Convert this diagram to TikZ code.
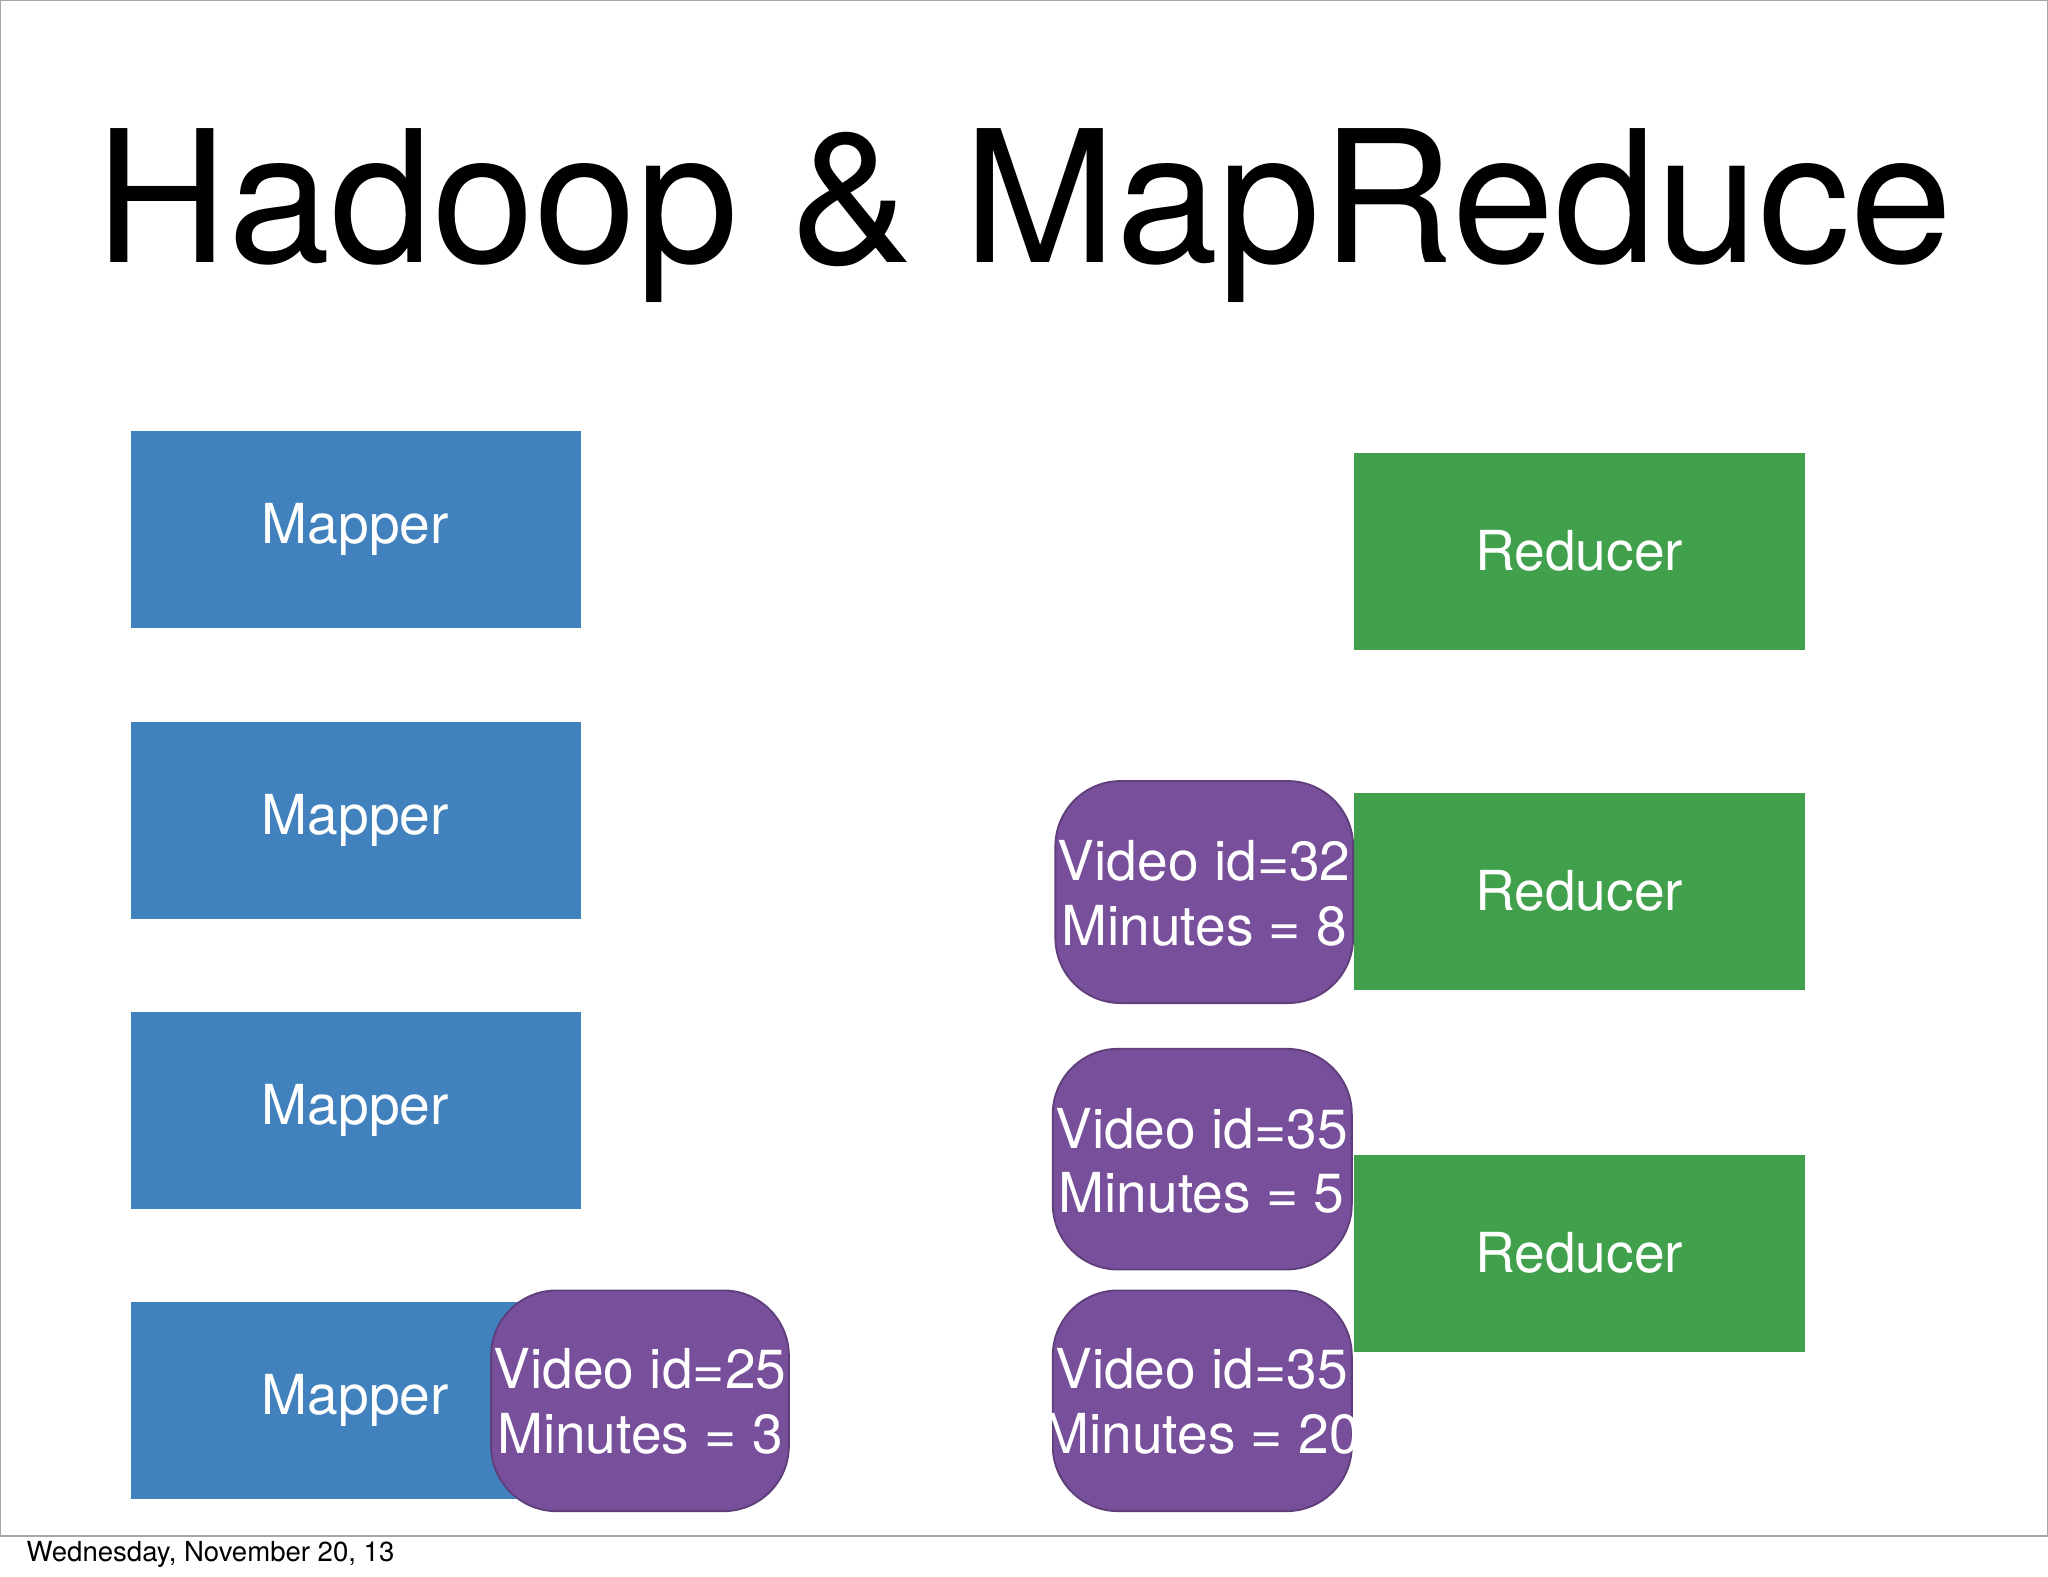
\documentclass[tikz,border=0pt]{standalone}
\usepackage{fontspec}
\setmainfont{TeX Gyre Heros}
\definecolor{mapblue}{HTML}{4181BD}
\definecolor{redgreen}{HTML}{40A04B}
\definecolor{pairpurple}{HTML}{774F9A}
\begin{document}
\begin{tikzpicture}[x=0.01cm,y=-0.01cm,
  mapper/.style={fill=mapblue,text=white,font=\fontsize{12}{14}\selectfont},
  reducer/.style={fill=redgreen,text=white,font=\fontsize{12}{14}\selectfont},
  pair/.style={fill=pairpurple,draw=pairpurple!80!black,rounded corners=0.5cm,text=white,align=center,font=\fontsize{12}{14}\selectfont}]
\useasboundingbox (0,0) rectangle (1568,1207);
\draw[gray!70] (0,0) rectangle (1568,1176);
\node (title) at (784,165) {\fontsize{40}{44}\selectfont Hadoop \& MapReduce};
%mappers
\foreach \i/\y in {1/330,2/553,3/775,4/997}{
  \fill[mapblue] (100,\y) rectangle (445,\y+151);
  \node[text=white,font=\fontsize{12}{14}\selectfont] (mapper\i) at (272,\y+75) {Mapper};
}
%reducers
\foreach \i/\y in {1/347,2/607,3/884}{
  \fill[redgreen] (1037,\y) rectangle (1382,\y+151);
  \node[text=white,font=\fontsize{12}{14}\selectfont] (reducer\i) at (1209,\y+75) {Reducer};
}
%key/value pairs
\draw[pair] (376,988) rectangle (604,1157);
\node[pair,draw=none,fill=none] (pair1) at (490,1073) {Video id=25\\Minutes = 3};
\draw[pair] (808,598) rectangle (1036,768);
\node[pair,draw=none,fill=none] (pair2) at (922,684) {Video id=32\\Minutes = 8};
\draw[pair] (806,803) rectangle (1035,972);
\node[pair,draw=none,fill=none] (pair3) at (920,889) {Video id=35\\Minutes = 5};
\draw[pair] (806,988) rectangle (1035,1157);
\node[pair,draw=none,fill=none] (pair4) at (920,1073) {Video id=35\\Minutes = 20};
\node[anchor=west,font=\fontsize{6}{7}\selectfont] (date) at (8,1190) {Wednesday, November 20, 13};
\end{tikzpicture}
\end{document}
